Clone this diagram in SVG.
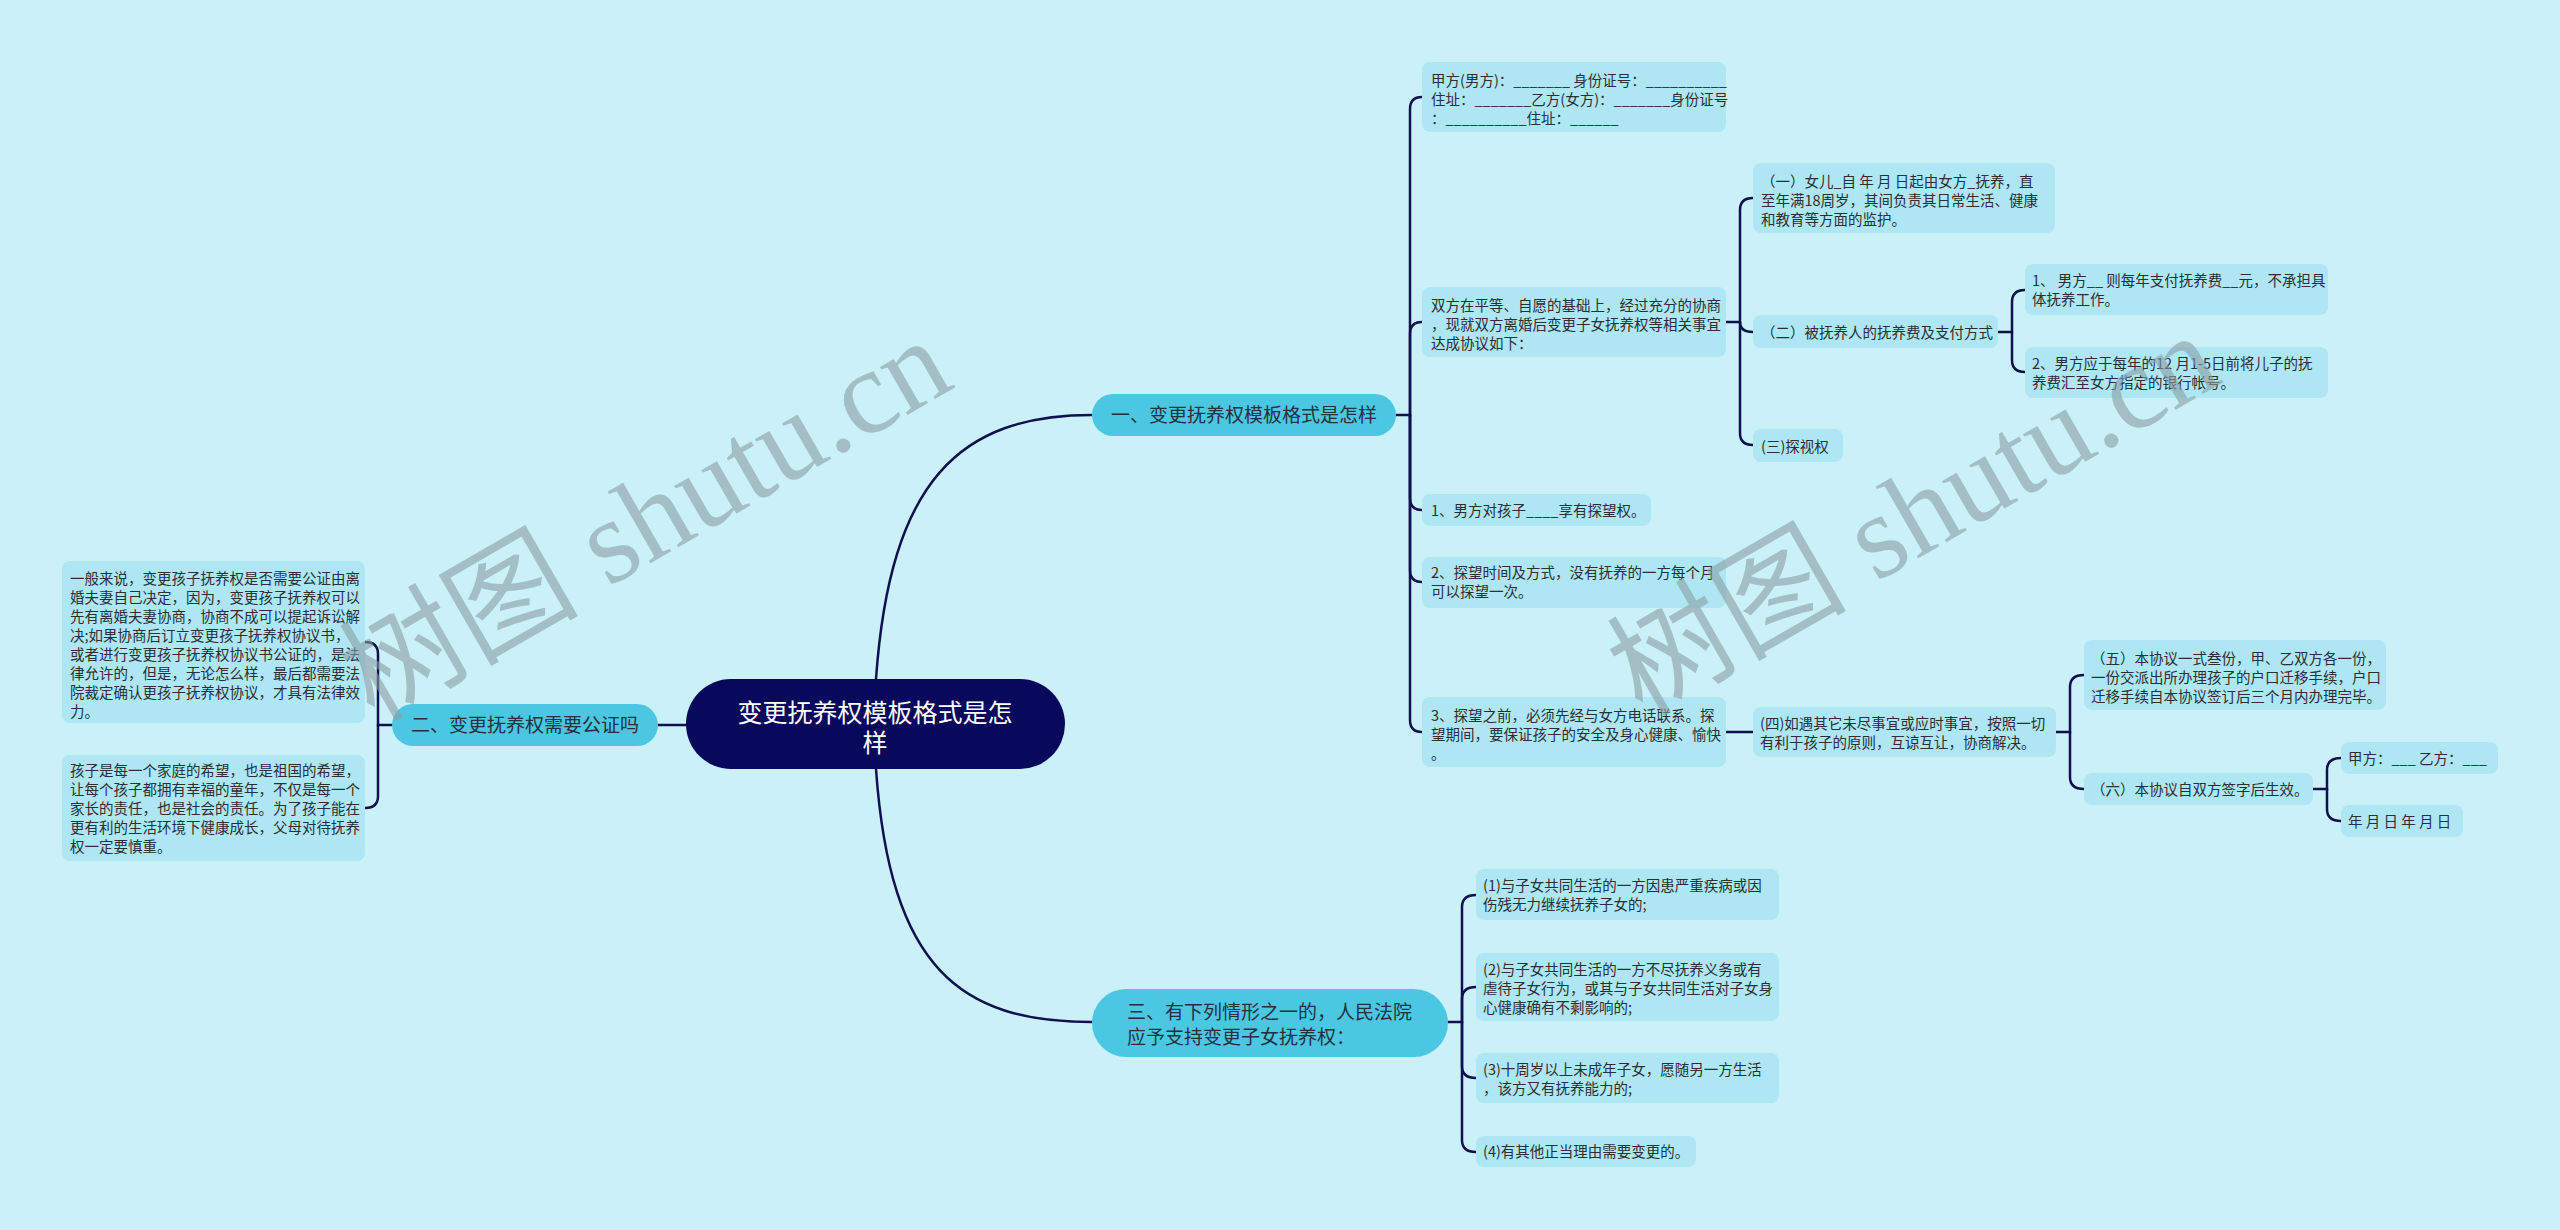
<svg xmlns="http://www.w3.org/2000/svg" width="2560" height="1230" viewBox="0 0 2560 1230">
<style>
.bg{fill:#caf0f8}
.leaf{fill:#aee6f4}
.br{fill:#4cc7e1}
.root{fill:#08085c}
.t{font-family:"Noto Sans CJK SC","Noto Sans",sans-serif;font-size:14.5px;fill:#2a2f36}
.bt{font-family:"Noto Sans CJK SC","Noto Sans",sans-serif;font-size:19px;fill:#22313f}
.rt{font-family:"Noto Sans CJK SC","Noto Sans",sans-serif;font-size:25px;fill:#ffffff}
.wm{font-family:"Liberation Serif","Noto Sans CJK SC",serif;font-size:120px;fill:#8aa0a4;opacity:0.6}
#links path{fill:none;stroke:#10104f;stroke-width:2.5;stroke-linecap:round}
</style>
<rect class="bg" x="0" y="0" width="2560" height="1230"/>

<g id="links">
<path d="M876,679 C890,480 960,415 1092,415"/>
<path d="M876,769 C890,968 960,1022 1092,1022"/>
<path d="M658,725 L686,725"/>
<!-- branch 2 children -->
<path d="M392,725 H378 V654 Q378,642 365,642"/>
<path d="M378,725 V796 Q378,808 365,808"/>
<!-- branch 1 children -->
<path d="M1396,415 H1410 V109 Q1410,97 1422,97"/>
<path d="M1410,415 V334 Q1410,322 1422,322"/>
<path d="M1410,415 V498 Q1410,510 1422,510"/>
<path d="M1410,415 V570 Q1410,582 1422,582"/>
<path d="M1410,415 V720 Q1410,732 1422,732"/>
<!-- C2 children -->
<path d="M1726,322 H1740 V210 Q1740,198 1753,198"/>
<path d="M1740,322 Q1740,332 1753,332"/>
<path d="M1740,322 V433 Q1740,445 1753,445"/>
<!-- (二) children -->
<path d="M1998,332 H2012 V302 Q2012,290 2025,290"/>
<path d="M2012,332 V360 Q2012,372 2025,372"/>
<!-- C5 -> (四) -->
<path d="M1726,732 L1753,732"/>
<!-- (四) children -->
<path d="M2056,732 H2070 V687 Q2070,675 2084,675"/>
<path d="M2070,732 V777 Q2070,789 2084,789"/>
<!-- (六) children -->
<path d="M2313,789 H2327 V770 Q2327,758 2341,758"/>
<path d="M2327,789 V809 Q2327,821 2341,821"/>
<!-- branch 3 children -->
<path d="M1448,1022 H1462 V907 Q1462,895 1476,895"/>
<path d="M1462,1022 V999 Q1462,987 1476,987"/>
<path d="M1462,1022 V1066 Q1462,1078 1476,1078"/>
<path d="M1462,1022 V1140 Q1462,1152 1476,1152"/>
</g>

<g id="root">
<rect class="root" x="686" y="679" width="379" height="90" rx="45"/>
<text class="rt" x="875" y="722" text-anchor="middle">变更抚养权模板格式是怎</text>
<text class="rt" x="875" y="752" text-anchor="middle">样</text>
</g>

<g id="b1">
<rect class="br" x="1092" y="394" width="304" height="42" rx="21"/>
<text class="bt" x="1244" y="422" text-anchor="middle">一、变更抚养权模板格式是怎样</text>
</g>
<g id="b2">
<rect class="br" x="392" y="704" width="266" height="42" rx="21"/>
<text class="bt" x="525" y="732" text-anchor="middle">二、变更抚养权需要公证吗</text>
</g>
<g id="b3">
<rect class="br" x="1092" y="989" width="356" height="68" rx="34"/>
<text class="bt" x="1127" y="1019">三、有下列情形之一的，人民法院</text>
<text class="bt" x="1127" y="1044">应予支持变更子女抚养权：</text>
</g>

<g id="c1">
<rect class="leaf" x="1422" y="62" width="304" height="70" rx="8"/>
<text class="t" x="1431"><tspan x="1431" y="86">甲方(男方)：_______ 身份证号：__________</tspan><tspan x="1431" y="105">住址：_______乙方(女方)：_______身份证号</tspan><tspan x="1431" y="124">：__________住址：______</tspan></text>
</g>
<g id="c2">
<rect class="leaf" x="1422" y="287" width="304" height="70" rx="8"/>
<text class="t" x="1431"><tspan x="1431" y="311">双方在平等、自愿的基础上，经过充分的协商</tspan><tspan x="1431" y="330">，现就双方离婚后变更子女抚养权等相关事宜</tspan><tspan x="1431" y="349">达成协议如下：</tspan></text>
</g>
<g id="c3">
<rect class="leaf" x="1422" y="494" width="229" height="32" rx="8"/>
<text class="t" x="1431" y="516">1、男方对孩子____享有探望权。</text>
</g>
<g id="c4">
<rect class="leaf" x="1422" y="557" width="304" height="51" rx="8"/>
<text class="t" x="1431"><tspan x="1431" y="578">2、探望时间及方式，没有抚养的一方每个月</tspan><tspan x="1431" y="597">可以探望一次。</tspan></text>
</g>
<g id="c5">
<rect class="leaf" x="1422" y="697" width="304" height="70" rx="8"/>
<text class="t" x="1431"><tspan x="1431" y="721">3、探望之前，必须先经与女方电话联系。探</tspan><tspan x="1431" y="740">望期间，要保证孩子的安全及身心健康、愉快</tspan><tspan x="1431" y="759">。</tspan></text>
</g>
<g id="n1">
<rect class="leaf" x="1753" y="163" width="302" height="70" rx="8"/>
<text class="t" x="1761"><tspan x="1761" y="187">（一）女儿_自 年 月 日起由女方_抚养，直</tspan><tspan x="1761" y="206">至年满18周岁，其间负责其日常生活、健康</tspan><tspan x="1761" y="225">和教育等方面的监护。</tspan></text>
</g>
<g id="n2">
<rect class="leaf" x="1753" y="315" width="245" height="33" rx="8"/>
<text class="t" x="1761" y="338">（二）被抚养人的抚养费及支付方式</text>
</g>
<g id="n2a">
<rect class="leaf" x="2025" y="264" width="303" height="51" rx="8"/>
<text class="t" x="2032"><tspan x="2032" y="286">1、 男方__ 则每年支付抚养费__元，不承担具</tspan><tspan x="2032" y="305">体抚养工作。</tspan></text>
</g>
<g id="n2b">
<rect class="leaf" x="2025" y="347" width="303" height="51" rx="8"/>
<text class="t" x="2032"><tspan x="2032" y="369">2、男方应于每年的12 月1-5日前将儿子的抚</tspan><tspan x="2032" y="388">养费汇至女方指定的银行帐号。</tspan></text>
</g>
<g id="n3">
<rect class="leaf" x="1753" y="429" width="90" height="33" rx="8"/>
<text class="t" x="1761" y="452">(三)探视权</text>
</g>
<g id="n4">
<rect class="leaf" x="1753" y="707" width="303" height="50" rx="8"/>
<text class="t" x="1760"><tspan x="1760" y="729">(四)如遇其它未尽事宜或应时事宜，按照一切</tspan><tspan x="1760" y="748">有利于孩子的原则，互谅互让，协商解决。</tspan></text>
</g>
<g id="n5">
<rect class="leaf" x="2084" y="640" width="302" height="70" rx="8"/>
<text class="t" x="2091"><tspan x="2091" y="664">（五）本协议一式叁份，甲、乙双方各一份，</tspan><tspan x="2091" y="683">一份交派出所办理孩子的户口迁移手续，户口</tspan><tspan x="2091" y="702">迁移手续自本协议签订后三个月内办理完毕。</tspan></text>
</g>
<g id="n6">
<rect class="leaf" x="2084" y="773" width="229" height="32" rx="8"/>
<text class="t" x="2091" y="795">（六）本协议自双方签字后生效。</text>
</g>
<g id="n6a">
<rect class="leaf" x="2341" y="742" width="157" height="32" rx="8"/>
<text class="t" x="2348" y="764">甲方：___ 乙方：___</text>
</g>
<g id="n6b">
<rect class="leaf" x="2341" y="805" width="122" height="32" rx="8"/>
<text class="t" x="2348" y="827">年 月 日 年 月 日</text>
</g>

<g id="d1">
<rect class="leaf" x="1476" y="869" width="303" height="51" rx="8"/>
<text class="t" x="1483"><tspan x="1483" y="891">(1)与子女共同生活的一方因患严重疾病或因</tspan><tspan x="1483" y="910">伤残无力继续抚养子女的;</tspan></text>
</g>
<g id="d2">
<rect class="leaf" x="1476" y="953" width="303" height="68" rx="8"/>
<text class="t" x="1483"><tspan x="1483" y="975">(2)与子女共同生活的一方不尽抚养义务或有</tspan><tspan x="1483" y="994">虐待子女行为，或其与子女共同生活对子女身</tspan><tspan x="1483" y="1013">心健康确有不剩影响的;</tspan></text>
</g>
<g id="d3">
<rect class="leaf" x="1476" y="1053" width="303" height="50" rx="8"/>
<text class="t" x="1483"><tspan x="1483" y="1075">(3)十周岁以上未成年子女，愿随另一方生活</tspan><tspan x="1483" y="1094">，该方又有抚养能力的;</tspan></text>
</g>
<g id="d4">
<rect class="leaf" x="1476" y="1136" width="220" height="31" rx="8"/>
<text class="t" x="1483" y="1157">(4)有其他正当理由需要变更的。</text>
</g>

<g id="l1">
<rect class="leaf" x="62" y="561" width="303" height="162" rx="8"/>
<text class="t" x="70"><tspan x="70" y="584">一般来说，变更孩子抚养权是否需要公证由离</tspan><tspan x="70" y="603">婚夫妻自己决定，因为，变更孩子抚养权可以</tspan><tspan x="70" y="622">先有离婚夫妻协商，协商不成可以提起诉讼解</tspan><tspan x="70" y="641">决;如果协商后订立变更孩子抚养权协议书，</tspan><tspan x="70" y="660">或者进行变更孩子抚养权协议书公证的，是法</tspan><tspan x="70" y="679">律允许的，但是，无论怎么样，最后都需要法</tspan><tspan x="70" y="698">院裁定确认更孩子抚养权协议，才具有法律效</tspan><tspan x="70" y="717">力。</tspan></text>
</g>
<g id="l2">
<rect class="leaf" x="62" y="755" width="303" height="106" rx="8"/>
<text class="t" x="70"><tspan x="70" y="776">孩子是每一个家庭的希望，也是祖国的希望，</tspan><tspan x="70" y="795">让每个孩子都拥有幸福的童年，不仅是每一个</tspan><tspan x="70" y="814">家长的责任，也是社会的责任。为了孩子能在</tspan><tspan x="70" y="833">更有利的生活环境下健康成长，父母对待抚养</tspan><tspan x="70" y="852">权一定要慎重。</tspan></text>
</g>

<g id="watermark">
<text class="wm" x="645" y="560" text-anchor="middle" transform="rotate(-30 645 519)">树图 shutu.cn</text>
<text class="wm" x="1913" y="555" text-anchor="middle" transform="rotate(-30 1913 514)">树图 shutu.cn</text>
</g>
</svg>
